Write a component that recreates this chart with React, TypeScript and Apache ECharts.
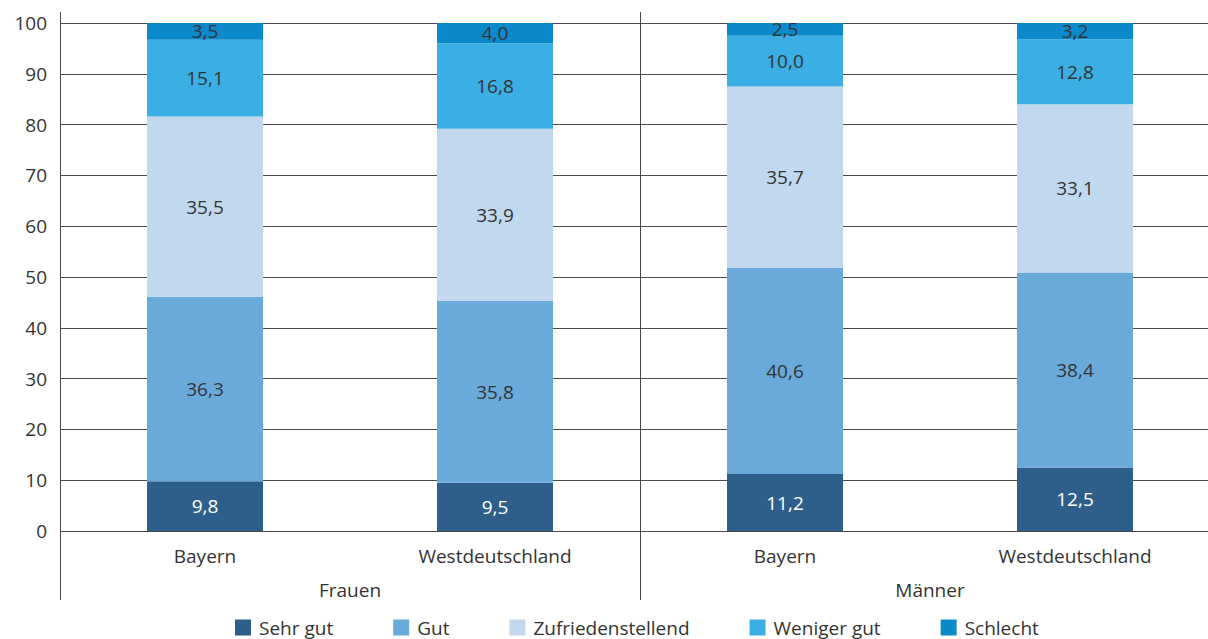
import React, { useEffect, useRef } from "react";
import * as echarts from "echarts";

const categories = ["Bayern", "Westdeutschland", "Bayern", "Westdeutschland"];
const groups = ["Frauen", "Männer"];
const seriesNames = ["Sehr gut", "Gut", "Zufriedenstellend", "Weniger gut", "Schlecht"];
const sehrGut = [9.8, 9.5, 11.2, 12.5];
const gut = [36.3, 35.8, 40.6, 38.4];
const zufrieden = [35.5, 33.9, 35.7, 33.1];
const wenigerGut = [15.1, 16.8, 10.0, 12.8];
const schlecht = [3.5, 4.0, 2.5, 3.2];
const colors = ["#2d5f8a", "#6aaadb", "#c2d8ef", "#3baee3", "#0a8acb"];

const FONT = "'Open Sans', sans-serif";
const FS = 19;
const TEXT = "#333333";
const LINE = "#4a4a4a";

export default function App() {
  const ref = useRef<HTMLDivElement>(null);
  useEffect(() => {
    if (!ref.current) return;
    const chart = echarts.init(ref.current, null, { renderer: "svg" });
    const values = [sehrGut, gut, zufrieden, wenigerGut, schlecht];
    chart.setOption({
      animation: false,
      textStyle: { fontFamily: FONT },
      grid: { left: 60, top: 23, bottom: 108, width: 1160, outerBoundsMode: "none", containLabel: false },
      legend: {
        left: 235,
        top: 618,
        itemWidth: 16,
        itemHeight: 16,
        itemGap: 60,
        icon: "rect",
        padding: 0,
        textStyle: { fontSize: FS, lineHeight: 16, color: TEXT, fontFamily: FONT, padding: [0, 0, 0, 3] },
        data: seriesNames,
      },
      xAxis: [
        {
          type: "category",
          data: categories,
          position: "bottom",
          axisLine: { show: false },
          axisTick: { show: false },
          axisLabel: { interval: 0, margin: 15, fontSize: FS, color: TEXT, fontFamily: FONT },
        },
        {
          type: "category",
          data: groups,
          position: "bottom",
          axisLine: { show: false },
          axisTick: { show: true, length: 69, lineStyle: { color: LINE, width: 1 } },
          axisLabel: { interval: 0, margin: 49, fontSize: FS, color: TEXT, fontFamily: FONT },
          splitLine: { show: true, lineStyle: { color: LINE, width: 1 } },
        },
        {
          type: "category",
          data: groups,
          position: "top",
          axisLine: { show: false },
          axisTick: { show: true, length: 11, lineStyle: { color: LINE, width: 1 } },
          axisLabel: { show: false },
          splitLine: { show: false },
        },
      ],
      yAxis: {
        type: "value",
        min: 0,
        max: 100,
        interval: 10,
        axisLine: { show: true, lineStyle: { color: LINE, width: 1 } },
        axisTick: { show: false },
        axisLabel: { margin: 13, fontSize: FS, color: TEXT, fontFamily: FONT },
        splitLine: { show: true, lineStyle: { color: LINE, width: 1 } },
      },
      series: seriesNames.map((name, i) => ({
        name,
        type: "bar",
        stack: "total",
        barWidth: "40%",
        xAxisIndex: 0,
        data: values[i],
        itemStyle: { color: colors[i] },
        label: {
          show: true,
          position: "inside",
          fontSize: FS,
          fontFamily: FONT,
          color: i === 0 ? "#ffffff" : TEXT,
          formatter: (p: any) => Number(p.value).toFixed(1).replace(".", ","),
        },
      })),
    });
    return () => chart.dispose();
  }, []);
  return (
    <div
      ref={ref}
      style={{ position: "absolute", left: 0, top: 0, width: 1208, height: 639 }}
    />
  );
}
